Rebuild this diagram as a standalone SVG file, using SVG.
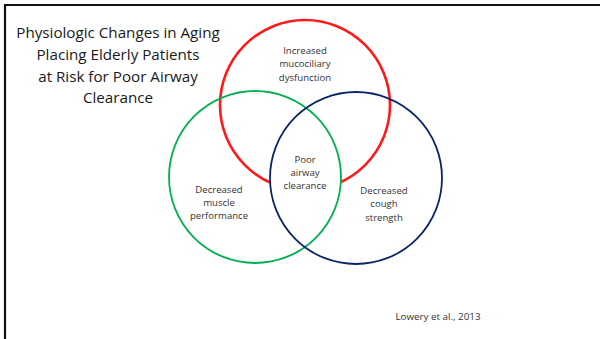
<svg xmlns="http://www.w3.org/2000/svg" width="600" height="339" viewBox="0 0 600 339">
  <style>
    .title { font-family: "Open Sans", "Liberation Sans", sans-serif; font-size: 15.2px; fill: #1a1a1a; text-anchor: middle; }
    .lbl { font-family: "Open Sans", "Liberation Sans", sans-serif; font-size: 9.6px; fill: #333333; text-anchor: middle; }
    .ring { fill: none; }
  </style>
  <defs>
    <clipPath id="greenClip">
      <circle cx="255" cy="177" r="86"/>
    </clipPath>
  </defs>
  <rect x="0" y="0" width="600" height="339" fill="#ffffff"/>
  <!-- slide frame -->
  <path d="M5 339 V5 H600" fill="none" stroke="#111111" stroke-width="2.2"/>

  <!-- title -->
  <g id="title">
    <text class="title" x="118" y="38">Physiologic Changes in Aging</text>
    <text class="title" x="118" y="60">Placing Elderly Patients</text>
    <text class="title" x="118" y="82">at Risk for Poor Airway</text>
    <text class="title" x="118" y="103">Clearance</text>
  </g>

  <g id="mucociliary">
    <circle class="ring" cx="305" cy="105" r="85" stroke="#ff1a1a" stroke-width="2.6"/>
    <text class="lbl" x="305" y="54">Increased</text>
    <text class="lbl" x="305" y="67">mucociliary</text>
    <text class="lbl" x="305" y="81">dysfunction</text>
  </g>

  <!-- shared lens of the two lower rings, blanked behind the centre label -->
  <g id="overlap">
    <circle cx="356" cy="178" r="86" fill="#ffffff" clip-path="url(#greenClip)"/>
    <text class="lbl" x="305" y="163">Poor</text>
    <text class="lbl" x="305" y="176">airway</text>
    <text class="lbl" x="305" y="189">clearance</text>
  </g>

  <g id="muscle">
    <circle class="ring" cx="255" cy="177" r="86" stroke="#00b050" stroke-width="1.8"/>
    <text class="lbl" x="219" y="193">Decreased</text>
    <text class="lbl" x="219" y="206">muscle</text>
    <text class="lbl" x="219" y="219">performance</text>
  </g>

  <g id="cough">
    <circle class="ring" cx="356" cy="178" r="86" stroke="#0b2566" stroke-width="1.8"/>
    <text class="lbl" x="384" y="194">Decreased</text>
    <text class="lbl" x="384" y="207">cough</text>
    <text class="lbl" x="384" y="221">strength</text>
  </g>

  <g id="connectors"/>

  <text class="lbl" x="438" y="320" style="font-size:9.8px">Lowery et al., 2013</text>
</svg>
